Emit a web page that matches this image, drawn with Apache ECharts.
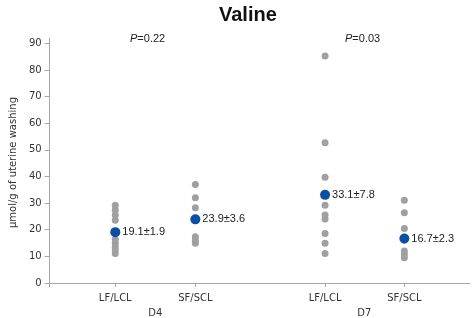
<!DOCTYPE html>
<html>
<head>
<meta charset="utf-8">
<script src="https://cdn.jsdelivr.net/npm/echarts@6/dist/echarts.min.js"></script>
<style>
  html, body { margin: 0; padding: 0; background: #fff; }
  #chartValine { width: 472px; height: 318px; }
</style>
</head>
<body>
<div id="chartValine"></div>
<script>
// groups along the x axis
var groupNames = ['LF/LCL', 'SF/SCL', 'LF/LCL', 'SF/SCL'];
var groupPos = [1, 2, 3.62, 4.61];
var dayNames = ['D4', 'D7'];
var dayPos = [1.5, 4.11];
var pValues = ['0.22', '0.03'];

// individual animals (µmol/g)
var d4LF = [29.2, 27.4, 25.5, 23.6, 16.4, 14.9, 13.6, 12.4, 11.1];
var d4SF = [37.0, 32.0, 28.3, 17.4, 16.1, 14.9];
var d7LF = [85.2, 52.7, 39.7, 29.2, 25.5, 24.0, 18.6, 14.9, 11.1];
var d7SF = [31.1, 26.4, 20.5, 16.1, 12.0, 10.7, 9.5];

// mean and sem
var means = [19.1, 23.9, 33.1, 16.7];
var sems = [1.9, 3.6, 7.8, 2.3];

var yTicks = [0, 10, 20, 30, 40, 50, 60, 70, 80, 90];

function renderValine() {
    var dom = document.getElementById('chartValine');
    var myChart = echarts.init(dom);

    var groups = [d4LF, d4SF, d7LF, d7SF];
    var grayData = [];
    groups.forEach(function(vals, i) {
        vals.forEach(function(v) {
            grayData.push([groupPos[i], v]);
        });
    });
    var meanData = means.map(function(m, i) {
        return [groupPos[i], m];
    });

    var axisFont = 'DejaVu Sans';
    var option = {
        backgroundColor: '#FFFFFF',
        animation: false,
        title: [{
            text: 'Valine',
            left: 214,
            top: 0,
            textStyle: {
                fontFamily: 'Liberation Sans',
                fontSize: 20,
                fontWeight: 'bold',
                color: '#111'
            }
        }].concat(pValues.map(function(p, i) {
            return {
                text: '{i|P}{n|=' + p + '}',
                left: (i === 0 ? 125 : 340),
                top: 28,
                textStyle: {
                    fontWeight: 'normal',
                    rich: {
                        i: { fontFamily: 'Liberation Sans', fontSize: 11, fontStyle: 'italic', fontWeight: 'normal', color: '#222' },
                        n: { fontFamily: 'Liberation Sans', fontSize: 11, fontWeight: 'normal', color: '#222' }
                    }
                }
            };
        })),
        grid: {
            top: 38,
            bottom: 31,
            left: 40,
            right: 2
        },
        xAxis: [{
            type: 'value',
            min: 0.18,
            max: 5.43,
            splitLine: { show: false },
            axisLine: { lineStyle: { color: '#a8a8a8' } },
            axisTick: {
                customValues: groupPos,
                length: 4,
                lineStyle: { color: '#a8a8a8' }
            },
            axisLabel: {
                customValues: groupPos,
                margin: 6,
                fontFamily: axisFont,
                fontSize: 10,
                color: '#333',
                formatter: function(v) {
                    var i = groupPos.indexOf(v);
                    return i >= 0 ? groupNames[i] : '';
                }
            }
        }, {
            type: 'value',
            position: 'bottom',
            min: 0.18,
            max: 5.43,
            splitLine: { show: false },
            axisLine: { show: false },
            axisTick: { show: false },
            axisLabel: {
                customValues: dayPos,
                margin: 21,
                fontFamily: axisFont,
                fontSize: 10,
                color: '#333',
                formatter: function(v) {
                    var i = dayPos.indexOf(v);
                    return i >= 0 ? dayNames[i] : '';
                }
            }
        }],
        yAxis: {
            type: 'value',
            min: -1.5,
            max: 92,
            name: 'µmol/g of uterine washing',
            nameLocation: 'middle',
            nameGap: 27,
            nameTextStyle: {
                fontFamily: axisFont,
                fontSize: 10,
                color: '#333'
            },
            splitLine: { show: false },
            axisLine: { show: true, lineStyle: { color: '#a8a8a8' } },
            axisTick: {
                show: true,
                customValues: yTicks,
                length: 5,
                lineStyle: { color: '#a8a8a8' }
            },
            axisLabel: {
                customValues: yTicks,
                margin: 8,
                fontFamily: axisFont,
                fontSize: 10,
                color: '#333'
            }
        },
        series: [{
            type: 'scatter',
            data: grayData,
            symbolSize: 7,
            itemStyle: { color: '#a0a0a0', opacity: 1 },
            z: 2
        }, {
            type: 'scatter',
            data: meanData,
            symbolSize: 10,
            itemStyle: { color: '#0a4fa3', opacity: 1 },
            label: {
                show: true,
                position: 'right',
                distance: 2,
                fontFamily: 'Liberation Sans',
                fontSize: 11,
                color: '#222',
                formatter: function(p) {
                    return means[p.dataIndex].toFixed(1) + '±' + sems[p.dataIndex].toFixed(1);
                }
            },
            z: 3
        }]
    };

    myChart.setOption(option);

    window.onresize = function() {
        myChart.resize();
    };
}
renderValine();
</script>
</body>
</html>
